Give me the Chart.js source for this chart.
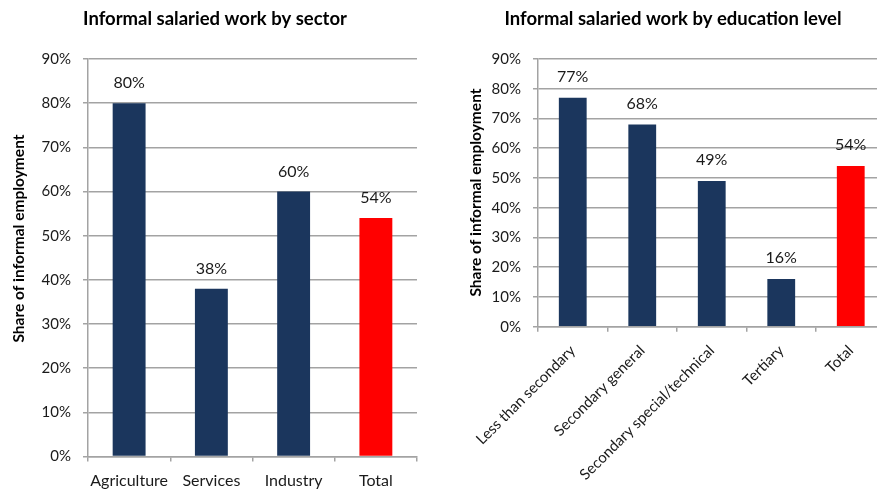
<!DOCTYPE html>
<html>
<head>
<meta charset="utf-8">
<script src="https://cdn.jsdelivr.net/npm/chart.js@4.4.1/dist/chart.umd.min.js"></script>
<style>
html,body{margin:0;padding:0;overflow:hidden;background:#fff;width:877px;height:494px;}
#w1{position:absolute;left:0;top:0;width:440px;height:494px;}
#w2{position:absolute;left:440px;top:0;width:450px;height:494px;}
</style>
</head>
<body>
<div id="w1"><canvas id="c1"></canvas></div>
<div id="w2"><canvas id="c2"></canvas></div>
<script>
// ---- data ----
const sectorLabels = ["Agriculture", "Services", "Industry", "Total"];
const sectorValues = [80, 38, 60, 54];
const eduLabels = ["Less than secondary", "Secondary general", "Secondary special/technical", "Tertiary", "Total"];
const eduValues = [77, 68, 49, 16, 54];
const yTicks = [0, 10, 20, 30, 40, 50, 60, 70, 80, 90];
const title1 = "Informal salaried work by sector";
const title2 = "Informal salaried work by education level";
const yTitle = "Share of informal employment";

const NAVY = "#1b365d", RED = "#ff0000", GRID = "#a3a3a3", TXT = "#1a1a1a";
const FONT = "Lato, 'Open Sans', sans-serif";

const textPlugin = {
  id: 'texts',
  afterDraw(chart, args, opts) {
    const ctx = chart.ctx;
    // value labels
    const meta = chart.getDatasetMeta(0);
    ctx.save();
    ctx.font = "16px " + FONT;
    ctx.fillStyle = TXT;
    ctx.textAlign = "center";
    ctx.textBaseline = "middle";
    meta.data.forEach((bar, i) => {
      const v = chart.data.datasets[0].data[i];
      ctx.fillText(v + "%", bar.x, bar.y - opts.labelOffset);
    });
    // chart title
    ctx.font = "bold 18.5px " + FONT;
    ctx.fillStyle = "#000";
    ctx.fillText(opts.title, opts.titleX, opts.titleY);
    // y-axis title
    ctx.translate(opts.yTitleX, opts.yTitleY);
    ctx.rotate(-Math.PI / 2);
    ctx.font = "bold 15.5px " + FONT;
    ctx.fillText(opts.yTitle, 0, 0);
    ctx.restore();
  }
};

function makeChart(id, labels, values, o) {
  return new Chart(document.getElementById(id), {
    type: 'bar',
    data: {
      labels: labels,
      datasets: [{
        data: values,
        backgroundColor: labels.map(l => l === "Total" ? RED : NAVY),
        borderWidth: 0,
        categoryPercentage: 1,
        barPercentage: 0.4
      }]
    },
    plugins: [textPlugin],
    options: {
      responsive: true,
      maintainAspectRatio: false,
      animation: false,
      layout: { padding: { left: 0, right: o.padRight, top: 59, bottom: 0 } },
      plugins: {
        legend: { display: false },
        title: { display: false },
        tooltip: { enabled: false },
        texts: o.texts
      },
      scales: {
        x: {
          grid: { display: true, offset: true, drawOnChartArea: false, tickLength: 5, color: GRID, lineWidth: 1.5 },
          border: { display: true, color: GRID, width: 1.5 },
          ticks: { color: TXT, font: { family: FONT, size: o.xFont }, padding: o.xPad,
                   minRotation: o.rot, maxRotation: o.rot, autoSkip: false },
          afterFit: s => { s.height = o.xHeight; }
        },
        y: {
          min: 0, max: 90,
          afterBuildTicks: s => { s.ticks = yTicks.map(v => ({ value: v })); },
          grid: { color: GRID, lineWidth: 1.5, tickLength: 5 },
          border: { display: true, color: GRID, width: 1.5 },
          ticks: { color: TXT, font: { family: FONT, size: 15 }, padding: 12,
                   callback: v => v + "%" },
          afterFit: s => { s.width = o.yWidth; }
        }
      }
    }
  });
}

makeChart('c1', sectorLabels, sectorValues, {
  padRight: 23, xFont: 16, xPad: 10, rot: 0, xHeight: 37.5, yWidth: 88,
  texts: { labelOffset: 20, title: title1, titleX: 215, titleY: 19,
           yTitle: yTitle, yTitleX: 19, yTitleY: 238.5 }
});
makeChart('c2', eduLabels, eduValues, {
  padRight: 4.5, xFont: 15, xPad: 10, rot: 45, xHeight: 167.3, yWidth: 98,
  texts: { labelOffset: 21, title: title2, titleX: 233, titleY: 19,
           yTitle: yTitle, yTitleX: 36, yTitleY: 192.5 }
});
</script>
</body>
</html>
